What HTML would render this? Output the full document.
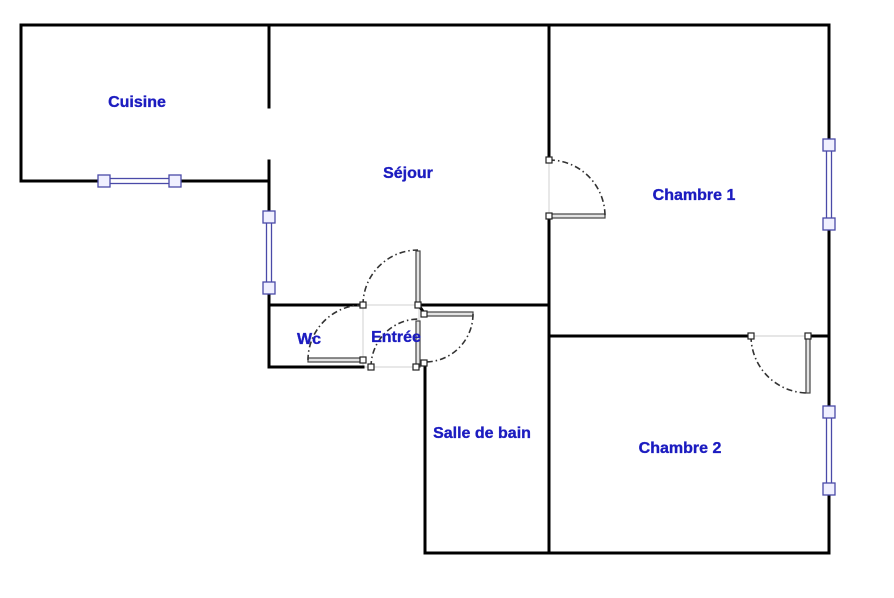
<!DOCTYPE html>
<html><head><meta charset="utf-8"><style>
html,body{margin:0;padding:0;background:#fff;}
svg{display:block;}
text{font-family:"Liberation Sans",sans-serif;font-weight:bold;font-size:16px;fill:#1c1cc0;stroke:#1c1cc0;stroke-width:0.35;text-anchor:middle;}
</style></head><body>
<svg width="894" height="598" viewBox="0 0 894 598" xmlns="http://www.w3.org/2000/svg">
<rect width="894" height="598" fill="#fff"/>
<!-- light gray guide lines -->
<g stroke="#d8d8d8" stroke-width="1.2" fill="none">
<line x1="549" y1="160" x2="549" y2="216"/>
<line x1="751" y1="336" x2="808" y2="336"/>
<rect x="363" y="305" width="56" height="62"/>
</g>
<!-- walls -->
<g stroke="#000" stroke-width="3" fill="none" stroke-linecap="square">
<path d="M21,25 H829 V553 H425 V363"/>
<path d="M21,25 V181 H98"/>
<path d="M182,181 H269"/>
<path d="M269,25 V107"/>
<path d="M269,161 V211"/>
<path d="M269,294 V367 H363"/>
<path d="M269,305 H363"/>
<path d="M418,305 H549"/>
<path d="M549,25 V160"/>
<path d="M549,216 V553"/>
<path d="M549,336 H751"/>
<path d="M808,336 H829"/>
<path d="M420,307 L424,313"/>
</g>
<!-- windows -->
<g stroke="#4a4aa8" stroke-width="1.3" fill="#fff">
<rect x="104" y="178.5" width="71" height="5"/>
<rect x="98" y="175" width="12" height="12" fill="#f0f0ff"/>
<rect x="169" y="175" width="12" height="12" fill="#f0f0ff"/>
<rect x="266.5" y="217" width="5" height="71"/>
<rect x="263" y="211" width="12" height="12" fill="#f0f0ff"/>
<rect x="263" y="282" width="12" height="12" fill="#f0f0ff"/>
<rect x="826.5" y="145" width="5" height="79"/>
<rect x="823" y="139" width="12" height="12" fill="#f0f0ff"/>
<rect x="823" y="218" width="12" height="12" fill="#f0f0ff"/>
<rect x="826.5" y="412" width="5" height="77"/>
<rect x="823" y="406" width="12" height="12" fill="#f0f0ff"/>
<rect x="823" y="483" width="12" height="12" fill="#f0f0ff"/>
</g>
<!-- door leaves -->
<g stroke="#444" stroke-width="1.2" fill="#e4e4e4">
<rect x="549" y="214" width="56" height="4"/>
<rect x="806" y="336" width="4" height="57"/>
<rect x="416" y="251" width="4" height="54"/>
<rect x="308" y="358" width="55" height="4"/>
<rect x="416" y="321" width="4" height="46"/>
<rect x="425" y="312" width="48" height="4"/>
</g>
<!-- door arcs -->
<g stroke="#333" stroke-width="1.6" fill="none" stroke-dasharray="6,3,1.5,3">
<path d="M549,160 A56,56 0 0 1 605,216"/>
<path d="M751,336 A57,57 0 0 0 808,393"/>
<path d="M363,305 A55,55 0 0 1 418,250"/>
<path d="M363,305 A55,55 0 0 0 308,360"/>
<path d="M371,367 A48,48 0 0 1 419,319"/>
<path d="M473,314 A48,48 0 0 1 425,362"/>
</g>
<!-- hinge squares -->
<g stroke="#222" stroke-width="1.2" fill="#fff">
<rect x="546" y="157" width="6" height="6"/>
<rect x="546" y="213" width="6" height="6"/>
<rect x="748" y="333" width="6" height="6"/>
<rect x="805" y="333" width="6" height="6"/>
<rect x="360" y="302" width="6" height="6"/>
<rect x="415" y="302" width="6" height="6"/>
<rect x="421" y="311" width="6" height="6"/>
<rect x="360" y="357" width="6" height="6"/>
<rect x="368" y="364" width="6" height="6"/>
<rect x="413" y="364" width="6" height="6"/>
<rect x="421" y="360" width="6" height="6"/>
</g>
<!-- labels -->
<text x="137" y="107">Cuisine</text>
<text x="408" y="178">Séjour</text>
<text x="694" y="200">Chambre 1</text>
<text x="309" y="344">Wc</text>
<text x="396" y="342">Entrée</text>
<text x="482" y="438">Salle de bain</text>
<text x="680" y="453">Chambre 2</text>
</svg>
</body></html>
